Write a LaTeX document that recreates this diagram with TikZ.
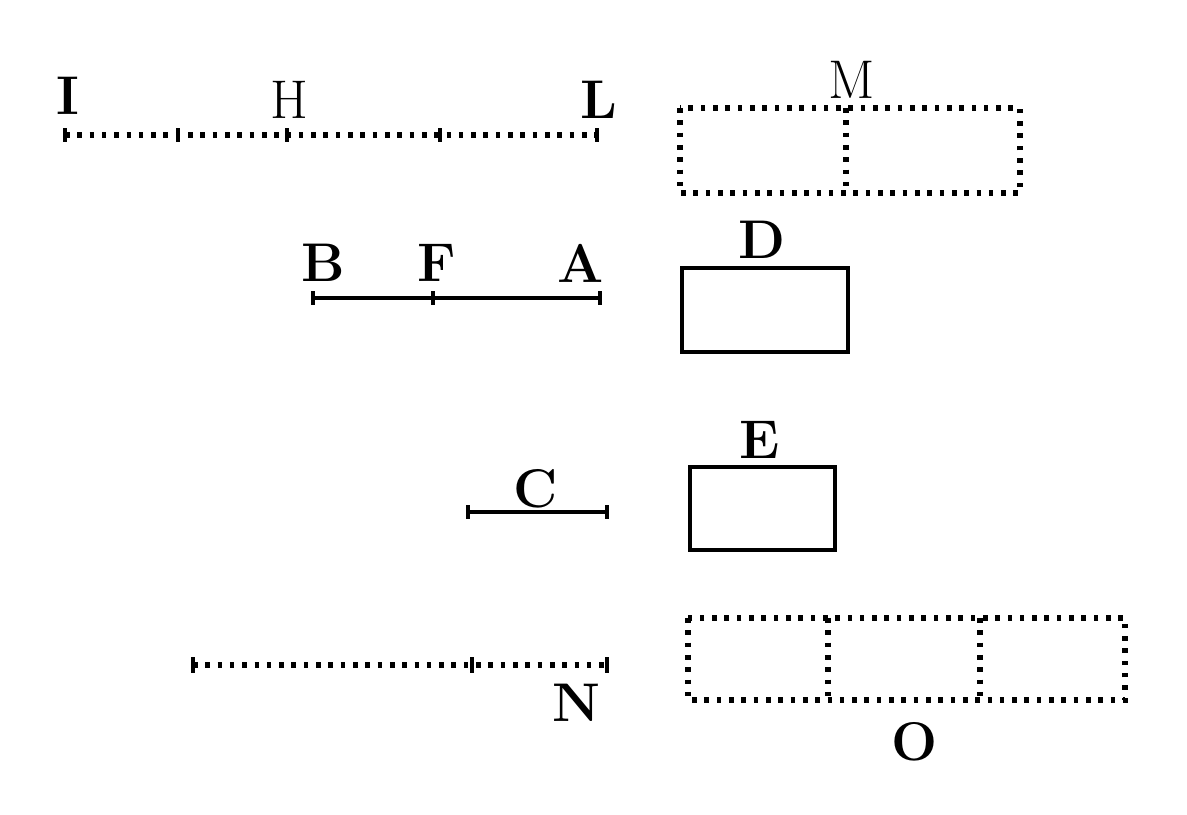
\documentclass[tikz,border=0pt]{standalone}
\usepackage{tikz}
\begin{document}
\begin{tikzpicture}[x=0.01cm, y=-0.01cm,
    lbl/.style={font=\fontsize{15.5}{18}\selectfont\bfseries, inner sep=0pt},
    thinlbl/.style={font=\fontsize{15.5}{18}\selectfont, inner sep=0pt},
    dotline/.style={line width=1.6pt, dash pattern=on 1.3pt off 2.2pt},
    solidline/.style={line width=0.9pt},
    tick/.style={line width=1.1pt}]
    \useasboundingbox (0,0) rectangle (1187,814);
    % line I H L
    \coordinate (iI) at (65,135); \coordinate (iL) at (597,135);
    \coordinate (t1) at (178,135); \coordinate (t2) at (287,135); \coordinate (t3) at (440,135);
    \draw[dotline] (iI) -- (iL);
    \foreach \p in {iI,t1,t2,t3,iL} \draw[tick] (\p) ++(0,-7) -- ++(0,14);
    \node[lbl] (I) at (68,96) {I};
    \node[thinlbl] (H) at (289,100) {H};
    \node[lbl] (L) at (599,100) {L};
    % rectangle M
    \coordinate (m1) at (680,108); \coordinate (m2) at (1020,193);
    \coordinate (mt) at (846,108); \coordinate (mb) at (846,193);
    \draw[dotline] (m1) rectangle (m2);
    \draw[dotline] (mt) -- (mb);
    \node[thinlbl] (M) at (852,80) {M};
    % line B F A
    \coordinate (bB) at (313,298); \coordinate (bF) at (433,298); \coordinate (bA) at (600,298);
    \draw[solidline] (bB) -- (bA);
    \foreach \p in {bB,bF,bA} \draw[tick] (\p) ++(0,-7) -- ++(0,14);
    \node[lbl] (B) at (323,263) {B};
    \node[lbl] (F) at (437,263) {F};
    \node[lbl] (A) at (581,263) {A};
    % rectangle D
    \draw[solidline] (682,268) rectangle (848,352);
    \node[lbl] (D) at (762,240) {D};
    % line C
    \coordinate (cl) at (468,512); \coordinate (cr) at (607,512);
    \draw[solidline] (cl) -- (cr);
    \foreach \p in {cl,cr} \draw[tick] (\p) ++(0,-7) -- ++(0,14);
    \node[lbl] (C) at (536,489) {C};
    % rectangle E
    \draw[solidline] (690,467) rectangle (835,550);
    \node[lbl] (E) at (760,440) {E};
    % line N
    \coordinate (nl) at (193,665); \coordinate (nt) at (472,665); \coordinate (nr) at (607,665);
    \draw[dotline] (nl) -- (nr);
    \foreach \p in {nl,nt,nr} \draw[tick] (\p) ++(0,-8) -- ++(0,16);
    \node[lbl] (N) at (576,703) {N};
    % rectangle O
    \coordinate (o1) at (688,618); \coordinate (o2) at (1125,700);
    \draw[dotline] (o1) rectangle (o2);
    \foreach \x in {828,980} \draw[dotline] (\x,618) -- (\x,700);
    \node[lbl] (O) at (915,742) {O};
\end{tikzpicture}
\end{document}
